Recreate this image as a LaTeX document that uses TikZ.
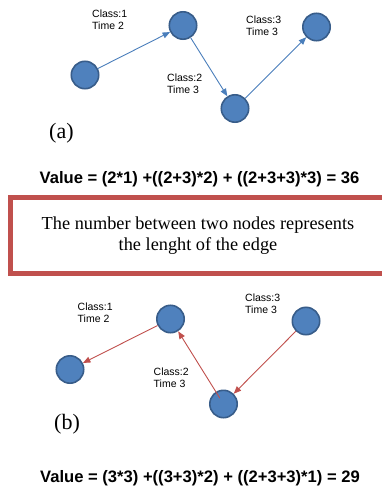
\documentclass[tikz,border=0pt]{standalone}
\usepackage{fontspec}
\setmainfont{Liberation Serif}
\setsansfont{Liberation Sans}
\usepackage{xcolor}
\usetikzlibrary{arrows.meta,positioning}
\definecolor{nodeblue}{HTML}{4F81BD}
\definecolor{nodeedge}{HTML}{385D8A}
\definecolor{edgeblue}{HTML}{4A7EBB}
\definecolor{edgered}{HTML}{C0504D}

\begin{document}
\begin{tikzpicture}[
    x=1pt, y=-1pt,
    job/.style={circle, draw=nodeedge, line width=1.6pt, fill=nodeblue,
                minimum size=27.4pt, inner sep=0pt},
    info/.style={font=\sffamily\fontsize{10.5}{12}\selectfont, align=left,
                 anchor=north west, inner sep=0pt},
    caption/.style={font=\fontsize{22}{24}\selectfont, anchor=west, inner sep=0pt},
    total/.style={font=\sffamily\bfseries\fontsize{16.6}{18}\selectfont, inner sep=0pt},
    bluearrow/.style={-{Triangle[length=7.5pt,width=6pt]}, color=edgeblue, line width=0.9pt},
    redarrow/.style={-{Triangle[length=7.5pt,width=6pt]}, color=edgered, line width=0.9pt},
    notebox/.style={draw=edgered, line width=5pt, minimum width=376pt, minimum height=76pt,
                    inner sep=0pt, outer sep=0pt, align=center,
                    font=\fontsize{18.3}{20.5}\selectfont}
]
    \useasboundingbox (0,0) rectangle (382,492);

    \node[job] (a1) at (85,75) {};
    \node[job] (a2) at (183,25.5) {};
    \node[job] (a3) at (235,108.5) {};
    \node[job] (a4) at (316.5,27) {};
    \node[info] (ai1) at (92,10) {Class:1\\Time 2};
    \node[info] (ai2) at (167,74) {Class:2\\Time 3};
    \node[info] (ai3) at (246,15.5) {Class:3\\Time 3};
    \node[caption] (capa) at (49,133) {(a)};
    \draw[bluearrow] (a1) -- (a2);
    \draw[bluearrow] (a2) -- (a3);
    \draw[bluearrow] (a3) -- (a4);

    \node[total] (tota) at (199.5,179) {Value = (2*1) +((2+3)*2) + ((2+3+3)*3) = 36};
    \node[notebox] (note) at (198,235.5) {The number between two nodes represents\\the lenght of the edge};

    \node[job] (b1) at (70,369.5) {};
    \node[job] (b2) at (170.5,319) {};
    \node[job] (b3) at (223.5,404) {};
    \node[job] (b4) at (306,321) {};
    \node[info] (bi1) at (77.5,302.5) {Class:1\\Time 2};
    \node[info] (bi2) at (153.5,368) {Class:2\\Time 3};
    \node[info] (bi3) at (245,293.5) {Class:3\\Time 3};
    \node[caption] (capb) at (54,424) {(b)};
    \draw[redarrow] (b2) -- (b1);
    \draw[redarrow, shorten <=7pt] (b3.center) -- (b2);
    \draw[redarrow] (b4) -- (b3);

    \node[total] (totb) at (200,478) {Value = (3*3) +((3+3)*2) + ((2+3+3)*1) = 29};
\end{tikzpicture}
\end{document}
